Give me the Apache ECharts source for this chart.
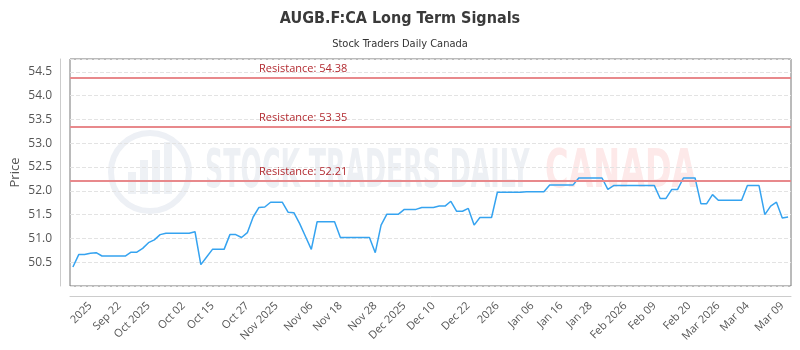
<!DOCTYPE html>
<html><head><meta charset="utf-8">
<script src="https://cdn.jsdelivr.net/npm/echarts@6/dist/echarts.min.js"></script>
<style>html,body{margin:0;padding:0;background:#fff}#c{width:800px;height:350px}</style>
</head><body><div id="c"></div>
<script>
const chartTitle = 'AUGB.F:CA Long Term Signals';
const chartSubtitle = 'Stock Traders Daily Canada';
const prices = [
  50.40, 50.66, 50.66, 50.69, 50.70, 50.63, 50.63, 50.63, 50.63, 50.63,
  50.71, 50.71, 50.79, 50.91, 50.97, 51.08, 51.11, 51.11, 51.11, 51.11,
  51.11, 51.14, 50.45, 50.61, 50.77, 50.77, 50.77, 51.08, 51.08, 51.02,
  51.12, 51.45, 51.65, 51.66, 51.76, 51.76, 51.76, 51.55, 51.54, 51.31,
  51.04, 50.77, 51.35, 51.35, 51.35, 51.35, 51.02, 51.02, 51.02, 51.02,
  51.02, 51.02, 50.70, 51.28, 51.51, 51.51, 51.51, 51.61, 51.61, 51.61,
  51.65, 51.65, 51.65, 51.68, 51.68, 51.78, 51.57, 51.57, 51.63, 51.28,
  51.44, 51.44, 51.44, 51.97, 51.97, 51.97, 51.97, 51.97, 51.98, 51.98,
  51.98, 51.98, 52.12, 52.12, 52.12, 52.12, 52.12, 52.27, 52.27, 52.27,
  52.27, 52.27, 52.03, 52.11, 52.11, 52.11, 52.11, 52.11, 52.11, 52.11,
  52.11, 51.84, 51.84, 52.03, 52.03, 52.27, 52.27, 52.27, 51.73, 51.73,
  51.92, 51.80, 51.80, 51.80, 51.80, 51.80, 52.11, 52.11, 52.11, 51.50,
  51.68, 51.76, 51.43, 51.45
];
const tickIndex = [3, 8, 13, 19, 24, 30, 35, 41, 46, 52, 57, 62, 68, 73, 79, 84, 89, 95, 100, 106, 111, 116, 122];
const tickLabels = ['2025', 'Sep 22', 'Oct 2025', 'Oct 02', 'Oct 15', 'Oct 27', 'Nov 2025', 'Nov 06', 'Nov 18', 'Nov 28',
  'Dec 2025', 'Dec 10', 'Dec 22', '2026', 'Jan 06', 'Jan 16', 'Jan 28', 'Feb 2026', 'Feb 09', 'Feb 20',
  'Mar 2026', 'Mar 04', 'Mar 09'];
const resistanceLevels = [54.38, 53.35, 52.21];
const yMin = 50.0, yMax = 54.77, yStep = 0.5;

const categories = prices.map((_, i) => i);
const labelMap = {};
tickIndex.forEach((idx, k) => { labelMap[idx] = tickLabels[k]; });

const narrow = "'Liberation Sans Narrow', 'DejaVu Sans Condensed', 'Roboto Condensed', sans-serif";
const sans = "'Open Sans', 'Noto Sans', sans-serif";

const chart = echarts.init(document.getElementById('c'));
chart.setOption({
  animation: false,
  backgroundColor: '#fff',
  title: {
    text: chartTitle,
    subtext: chartSubtitle,
    left: 'center',
    top: 6,
    itemGap: 12,
    textStyle: { fontFamily: narrow, fontWeight: 'bold', fontSize: 16, color: '#3a3a3a' },
    subtextStyle: { fontFamily: narrow, fontSize: 11, color: '#333' }
  },
  graphic: [
    { type: 'circle', z: 0, shape: { cx: 150, cy: 172, r: 39 }, style: { fill: 'none', stroke: '#edf0f5', lineWidth: 6 } },
    { type: 'rect', z: 0, shape: { x: 128, y: 172, width: 8, height: 22 }, style: { fill: '#eef1f5' } },
    { type: 'rect', z: 0, shape: { x: 140, y: 160, width: 8, height: 34 }, style: { fill: '#eef1f5' } },
    { type: 'rect', z: 0, shape: { x: 152, y: 150, width: 8, height: 44 }, style: { fill: '#eef1f5' } },
    { type: 'rect', z: 0, shape: { x: 164, y: 142, width: 8, height: 52 }, style: { fill: '#eef1f5' } },
    { type: 'text', z: 0, x: 205, y: 173, scaleX: 0.52,
      style: { text: 'STOCK TRADERS DAILY', font: "bold 54px " + narrow, fill: '#edf0f4', verticalAlign: 'middle' } },
    { type: 'text', z: 0, x: 545, y: 173, scaleX: 0.66,
      style: { text: 'CANADA', font: "bold 54px " + narrow, fill: '#fde9e9', verticalAlign: 'middle' } }
  ],
  grid: { left: 70, right: 9, top: 59, bottom: 64, show: true, borderColor: '#777', borderWidth: 1,
          backgroundColor: 'transparent', containLabel: false, outerBoundsMode: 'none' },
  xAxis: {
    type: 'category',
    data: categories,
    boundaryGap: true,
    offset: 10,
    axisLine: { show: true, lineStyle: { color: '#ccc' } },
    axisTick: { show: false },
    splitLine: { show: false },
    axisLabel: {
      rotate: 45,
      interval: (i) => labelMap[i] !== undefined,
      formatter: (v, i) => labelMap[i] || '',
      fontFamily: sans, fontSize: 11, color: '#555', margin: 8
    }
  },
  yAxis: {
    type: 'value',
    min: yMin, max: yMax, interval: yStep,
    offset: 10,
    name: 'Price',
    nameLocation: 'middle',
    nameGap: 38,
    nameMoveOverlap: false,
    nameTextStyle: { fontFamily: sans, fontSize: 13, color: '#555' },
    axisLine: { show: true, lineStyle: { color: '#ccc' } },
    axisTick: { show: false },
    splitLine: { show: true, lineStyle: { color: '#e3e3e3', type: 'dashed' } },
    axisLabel: {
      showMinLabel: false, showMaxLabel: false,
      formatter: (v) => v.toFixed(1),
      fontFamily: sans, fontSize: 12, color: '#555', margin: 8
    }
  },
  series: [{
    type: 'line',
    data: prices,
    showSymbol: false,
    symbol: 'none',
    lineStyle: { color: '#35a3f0', width: 1.5 },
    itemStyle: { color: '#35a3f0' },
    z: 3,
    markLine: {
      silent: true,
      symbol: ['none', 'none'],
      lineStyle: { color: '#e8898c', width: 2, type: 'solid' },
      label: {
        position: 'insideStartTop',
        distance: [189, 3],
        formatter: (p) => 'Resistance: ' + p.value.toFixed(2),
        fontFamily: sans, fontSize: 11, color: '#b22a30'
      },
      data: resistanceLevels.map(v => ({ yAxis: v }))
    }
  }]
});
</script>
</body></html>
